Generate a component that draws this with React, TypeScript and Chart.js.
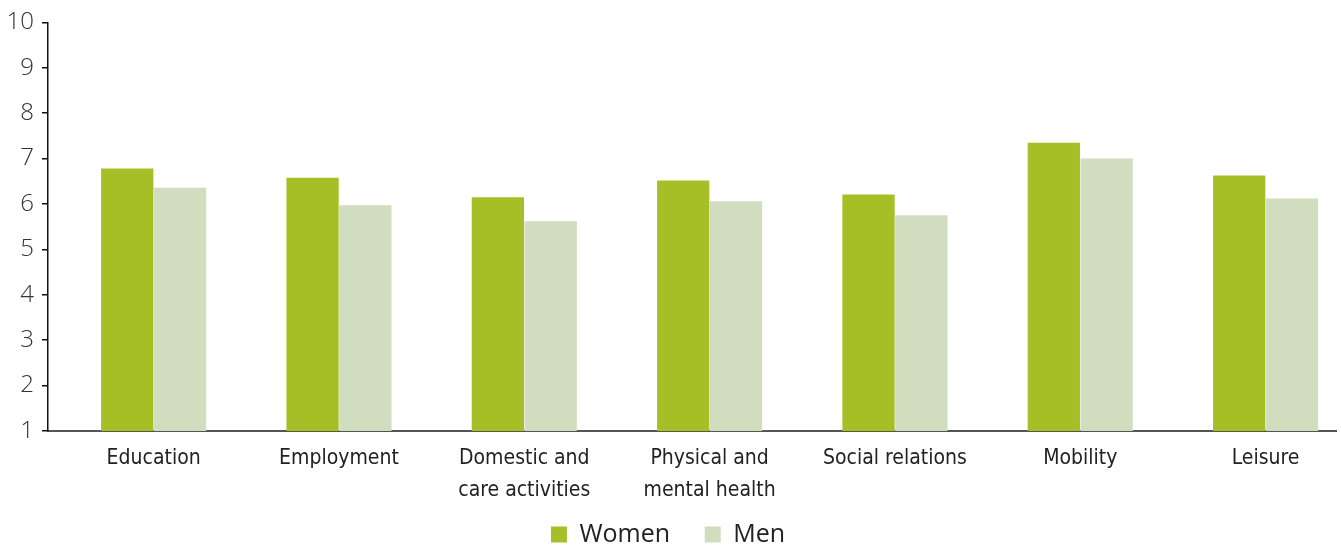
import React, { useEffect, useRef } from "react";
import { Chart, registerables } from "chart.js";

Chart.register(...registerables);

const categories: (string | string[])[] = [
  "Education",
  "Employment",
  ["Domestic and", "care activities"],
  ["Physical and", "mental health"],
  "Social relations",
  "Mobility",
  "Leisure",
];
const women = [6.78, 6.58, 6.15, 6.52, 6.21, 7.35, 6.63];
const men = [6.36, 5.97, 5.62, 6.06, 5.75, 7.0, 6.12];
const yTicks = [1, 2, 3, 4, 5, 6, 7, 8, 9, 10];

export default function App() {
  const ref = useRef<HTMLCanvasElement>(null);
  useEffect(() => {
    const chart = new Chart(ref.current!, {
      type: "bar",
      data: {
        datasets: [
          {
            label: "Women",
            data: women.map((v, i) => ({ x: i, y: v })),
            backgroundColor: "#A7BF26",
            borderWidth: 0,
          },
          {
            label: "Men",
            data: men.map((v, i) => ({ x: i, y: v })),
            backgroundColor: "#D1DDBF",
            borderWidth: 0,
          },
        ],
      },
      options: {
        animation: false,
        responsive: true,
        maintainAspectRatio: false,
        layout: { padding: { top: 20, right: 5, left: 0, bottom: 0 } },
        datasets: { bar: { categoryPercentage: 0.57, barPercentage: 0.99 } },
        scales: {
          x: {
            type: "linear",
            offset: false,
            min: -0.57,
            max: 6.38,
            afterBuildTicks: (axis: any) => {
              axis.ticks = categories.map((_, i) => ({ value: i }));
            },
            afterFit: (axis: any) => {
              axis.height = 73;
            },
            grid: { display: false, drawTicks: false },
            border: { display: true, color: "#555555", width: 2 },
            ticks: {
              autoSkip: false,
              maxRotation: 0,
              padding: 12,
              color: "#222222",
              font: { family: "'Liberation Sans Narrow', 'DejaVu Sans Condensed', sans-serif", size: 21, lineHeight: 1.52 },
              callback: (v: any) => categories[Math.round(Number(v))] as any,
            },
          },
          y: {
            min: 1,
            max: 10,
            afterBuildTicks: (axis: any) => {
              axis.ticks = yTicks.map((v) => ({ value: v }));
            },
            afterFit: (axis: any) => {
              axis.width = 48;
            },
            grid: { drawOnChartArea: false, drawTicks: true, tickLength: 6, color: "#111111", lineWidth: 1.5 },
            border: { display: true, color: "#111111", width: 1.5 },
            ticks: {
              padding: 8,
              color: "#333333",
              font: { family: "'Open Sans', sans-serif", size: 24, weight: "300" as any },
            },
          },
        },
        plugins: {
          legend: {
            position: "bottom",
            labels: {
              boxWidth: 16,
              boxHeight: 16,
              padding: 18,
              color: "#222222",
              font: { family: "'Open Sans', sans-serif", size: 25 },
              generateLabels: (c: any) => {
                const items = Chart.defaults.plugins.legend.labels.generateLabels(c);
                return items.map((it: any, i: number) =>
                  i < items.length - 1 ? { ...it, text: it.text + "\u2002\u2009" } : it
                );
              },
            },
          },
          tooltip: { enabled: false },
        },
      } as any,
    });
    return () => chart.destroy();
  }, []);
  return (
    <div style={{ position: "fixed", left: 0, top: 0, width: 1341, height: 545, overflow: "hidden", background: "#fff" }}>
      <div style={{ position: "relative", width: 1341, height: 557 }}>
        <canvas ref={ref} />
      </div>
    </div>
  );
}
